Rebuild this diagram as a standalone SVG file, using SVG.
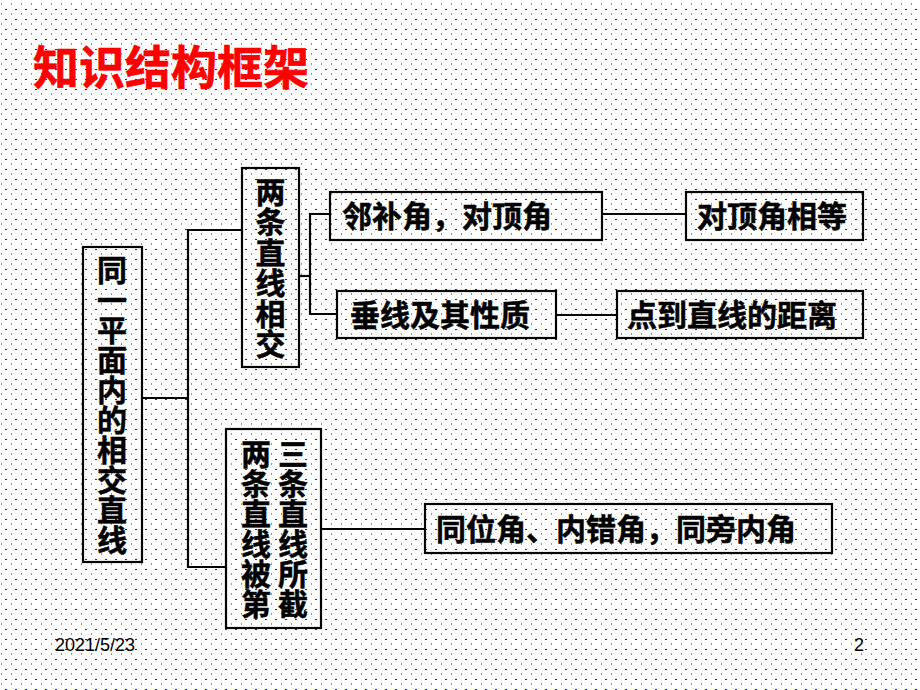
<svg xmlns="http://www.w3.org/2000/svg" width="920" height="690" viewBox="0 0 920 690">
<defs>
<pattern id="dots" x="0" y="0" width="10" height="10" patternUnits="userSpaceOnUse">
<rect x="1" y="3" width="1" height="2" fill="#7f93cc"/>
<rect x="5" y="9" width="2" height="1" fill="#1c1ca6"/>
</pattern>
<style>
.box{fill:none;stroke:#000;stroke-width:2.2}
.ln{fill:none;stroke:#000;stroke-width:2.2}
.t{font-family:"Noto Sans CJK SC","Noto Sans CJK TC",sans-serif;font-weight:bold;font-size:30px;fill:#000;stroke:#000;stroke-width:0.5}
.vt{font-family:"Noto Sans CJK SC","Noto Sans CJK TC",sans-serif;font-weight:bold;font-size:30px;fill:#000;stroke:#000;stroke-width:0.5;text-anchor:middle}
.foot{font-family:"Liberation Sans",Arial,sans-serif;font-size:18px;fill:#000}
</style>
</defs>
<rect width="920" height="690" fill="#fff"/>
<rect width="920" height="690" fill="url(#dots)"/>
<text x="33" y="84" font-family="'Noto Sans CJK SC','Noto Sans CJK TC',sans-serif" font-weight="bold" font-size="46" fill="#ff0000" stroke="#ff0000" stroke-width="0.6">知识结构框架</text>

<g id="connectors">
<polyline class="ln" points="142,398 188,398"/>
<polyline class="ln" points="242,230 188,230 188,567 226,567"/>
<polyline class="ln" points="299,276 310,276"/>
<polyline class="ln" points="330,214 310,214 310,314 337,314"/>
<polyline class="ln" points="602,214 686,214"/>
<polyline class="ln" points="556,315 617,315"/>
<polyline class="ln" points="321,529 425,529"/>
</g>

<g id="root">
<rect class="box" x="83" y="247" width="59" height="315"/>
<text class="vt"><tspan x="112" y="281">同</tspan><tspan x="112" y="311">一</tspan><tspan x="112" y="341">平</tspan><tspan x="112" y="371">面</tspan><tspan x="112" y="401">内</tspan><tspan x="112" y="431">的</tspan><tspan x="112" y="461">相</tspan><tspan x="112" y="491">交</tspan><tspan x="112" y="521">直</tspan><tspan x="112" y="551">线</tspan></text>
</g>

<g id="intersect">
<rect class="box" x="242" y="168" width="57" height="199"/>
<text class="vt"><tspan x="270.5" y="203">两</tspan><tspan x="270.5" y="233">条</tspan><tspan x="270.5" y="263.5">直</tspan><tspan x="270.5" y="294">线</tspan><tspan x="270.5" y="324.5">相</tspan><tspan x="270.5" y="355">交</tspan></text>
</g>

<g id="transversal">
<rect class="box" x="226" y="429" width="95" height="199"/>
<text class="vt"><tspan x="293" y="465">三</tspan><tspan x="293" y="495">条</tspan><tspan x="293" y="525">直</tspan><tspan x="293" y="555">线</tspan><tspan x="293" y="585">所</tspan><tspan x="293" y="615">截</tspan></text>
<text class="vt"><tspan x="256" y="465">两</tspan><tspan x="256" y="495">条</tspan><tspan x="256" y="525">直</tspan><tspan x="256" y="555">线</tspan><tspan x="256" y="585">被</tspan><tspan x="256" y="615">第</tspan></text>
</g>

<g id="adjacent">
<rect class="box" x="330" y="192" width="272" height="48"/>
<text class="t" x="342" y="227">邻补角，对顶角</text>
</g>

<g id="vertical-equal">
<rect class="box" x="686" y="192" width="177" height="48"/>
<text class="t" x="697" y="227">对顶角相等</text>
</g>

<g id="perpendicular">
<rect class="box" x="337" y="291" width="219" height="47"/>
<text class="t" x="350" y="326">垂线及其性质</text>
</g>

<g id="distance">
<rect class="box" x="617" y="291" width="246" height="47"/>
<text class="t" x="627" y="326">点到直线的距离</text>
</g>

<g id="angles">
<rect class="box" x="425" y="504" width="407" height="49"/>
<text class="t" x="436" y="540">同位角、内错角，同旁内角</text>
</g>

<text class="foot" x="55" y="651">2021/5/23</text>
<text class="foot" x="864" y="651" text-anchor="end">2</text>
</svg>
